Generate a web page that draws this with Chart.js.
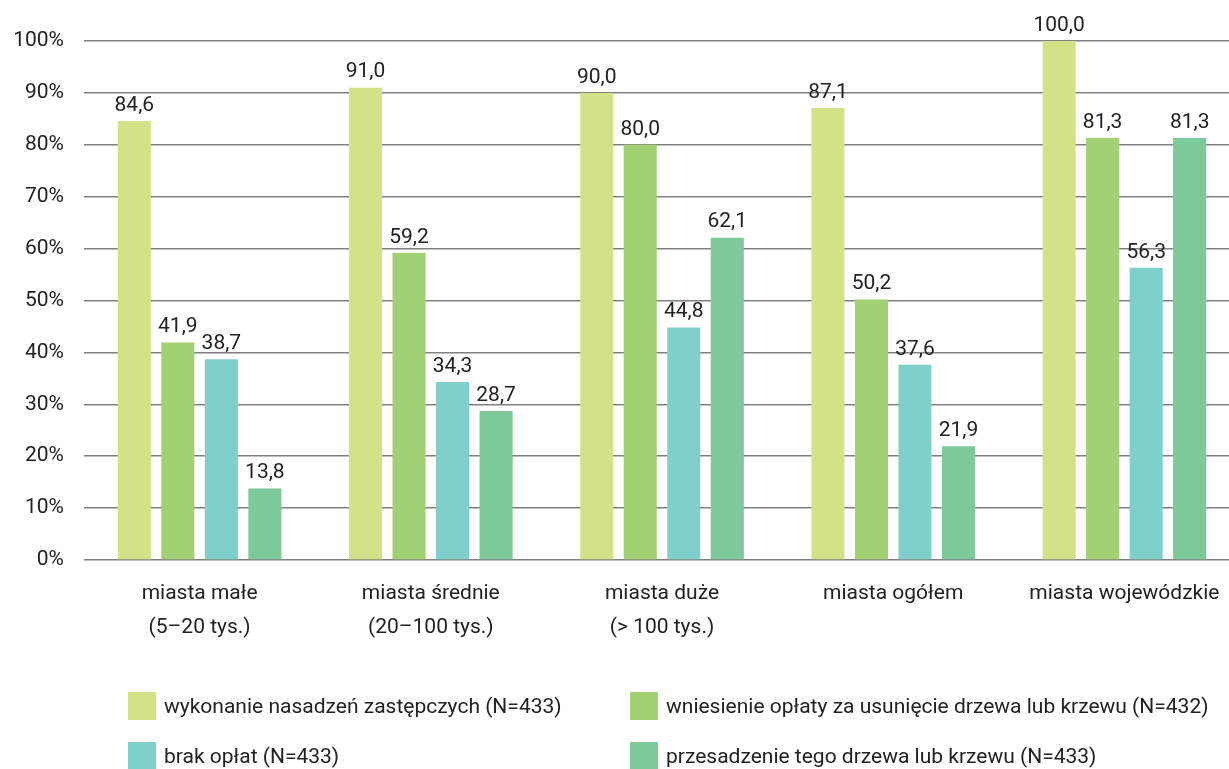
<!DOCTYPE html>
<html lang="pl">
<head>
<meta charset="utf-8">
<script src="https://cdn.jsdelivr.net/npm/chart.js@4/dist/chart.umd.min.js"></script>
<style>
  html, body { margin: 0; padding: 0; background: #fff; overflow: hidden; }
  #wrap { position: relative; width: 1229px; height: 769px; overflow: hidden; }
  #legend {
    position: absolute; left: 128px; top: 692px;
    display: grid; grid-template-columns: 502px auto; row-gap: 22px;
    font-family: "Roboto", sans-serif; font-size: 21px; color: #222;
  }
  .item { display: flex; align-items: center; height: 28px; }
  .box { width: 28px; height: 28px; margin-right: 8px; }
</style>
</head>
<body>
<div id="wrap">
  <canvas id="chart" width="1240" height="769"></canvas>
  <div id="legend"></div>
</div>
<script>
const categories = [
  ['miasta małe', '(5–20 tys.)'],
  ['miasta średnie', '(20–100 tys.)'],
  ['miasta duże', '(> 100 tys.)'],
  'miasta ogółem',
  'miasta wojewódzkie'
];
const seriesNames = [
  'wykonanie nasadzeń zastępczych (N=433)',
  'wniesienie opłaty za usunięcie drzewa lub krzewu (N=432)',
  'brak opłat (N=433)',
  'przesadzenie tego drzewa lub krzewu (N=433)'
];
const nasadzenia = [84.6, 91.0, 90.0, 87.1, 100.0];
const oplata = [41.9, 59.2, 80.0, 50.2, 81.3];
const brakOplat = [38.7, 34.3, 44.8, 37.6, 56.3];
const przesadzenie = [13.8, 28.7, 62.1, 21.9, 81.3];
const colors = ['#d4e287', '#a2d173', '#7fd0cb', '#7dc99a'];

const FONT = '"Roboto", sans-serif';

// value labels above each bar, Polish decimal comma
const valueLabels = {
  id: 'valueLabels',
  afterDatasetsDraw(chart) {
    const ctx = chart.ctx;
    ctx.save();
    ctx.font = '21px ' + FONT;
    ctx.fillStyle = '#222';
    ctx.textAlign = 'center';
    ctx.textBaseline = 'bottom';
    chart.data.datasets.forEach((ds, i) => {
      chart.getDatasetMeta(i).data.forEach((bar, j) => {
        ctx.fillText(ds.data[j].toFixed(1).replace('.', ','), bar.x, bar.y - 5);
      });
    });
    ctx.restore();
  }
};

const allSeries = [nasadzenia, oplata, brakOplat, przesadzenie];

new Chart(document.getElementById('chart'), {
  type: 'bar',
  data: {
    labels: categories,
    datasets: allSeries.map((d, i) => ({
      label: seriesNames[i],
      data: d,
      backgroundColor: colors[i],
      categoryPercentage: 0.753,
      barPercentage: 0.76
    }))
  },
  options: {
    responsive: false,
    animation: false,
    layout: { padding: { top: 41, right: 0, left: 0, bottom: 0 } },
    plugins: { legend: { display: false }, tooltip: { enabled: false } },
    scales: {
      x: {
        grid: { display: false },
        border: { display: false },
        ticks: {
          color: '#222',
          font: { family: FONT, size: 21, lineHeight: 1.6 },
          padding: 9,
          maxRotation: 0,
          autoSkip: false
        },
        afterFit(scale) { scale.height = 209; }
      },
      y: {
        min: 0,
        max: 100,
        ticks: {
          stepSize: 10,
          color: '#222',
          font: { family: FONT, size: 21 },
          padding: 20,
          callback: v => v + '%'
        },
        grid: { color: '#808080', lineWidth: 1.5, drawTicks: false },
        border: { display: false },
        afterFit(scale) { scale.width = 84; }
      }
    }
  },
  plugins: [valueLabels]
});

// legend in two columns under the plot
const legend = document.getElementById('legend');
seriesNames.forEach((name, i) => {
  const item = document.createElement('div');
  item.className = 'item';
  item.innerHTML = '<span class="box" style="background:' + colors[i] + '"></span><span>' + name + '</span>';
  legend.appendChild(item);
});
</script>
</body>
</html>
